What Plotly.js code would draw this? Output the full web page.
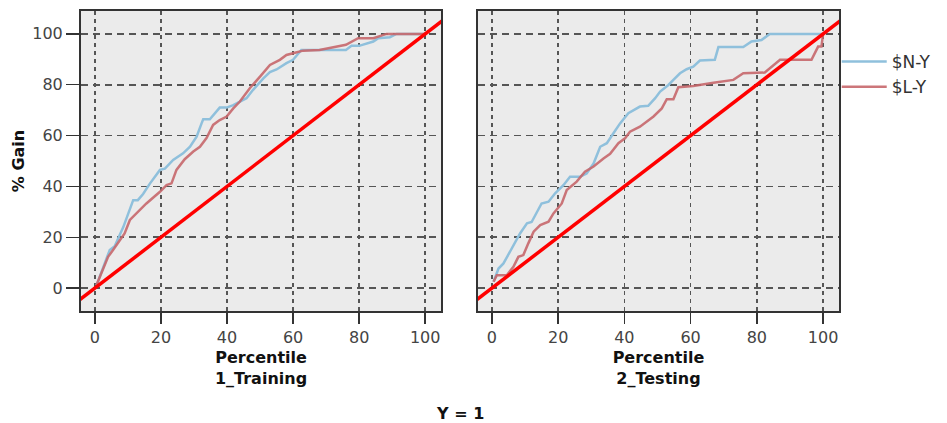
<!DOCTYPE html>
<html>
<head>
<meta charset="utf-8">
<script src="https://cdn.plot.ly/plotly-3.0.1.min.js"></script>
<style>html,body{margin:0;padding:0;background:#fff;}#chart{width:947px;height:423px;}</style>
</head>
<body>
<div id="chart"></div>
<script>
// Training panel
const trainNx = [0.5,4.5,6,8.6,11.6,13,14.6,16.6,19.7,21.2,23.7,26.7,28.8,30.8,32.3,32.8,34.8,36.3,37.8,39.9,41.9,45.9,47.9,51,53,55,58,60,62.5,64,70,76,77.7,80,84.3,85.8,89.3,91.3,100];
const trainNy = [1.2,15,16.5,24,34.6,34.6,37,41,46.5,47,50.4,53,55.6,59.6,64.8,66.4,66.4,68.8,71,71,72,74.7,78,82.5,85,86,88.5,89.8,93.7,93.7,93.7,93.7,95.3,95.3,97,98.3,98.7,100,100];
const trainLx = [0.5,1.5,4,5.5,7,9,10.6,12.6,15.6,19.7,21.7,23.2,24.7,27.2,29.8,31.8,33.8,35.8,37.8,39.9,41.9,43.9,46.9,50,53,56,58,60,63,68,72,76,79.7,84.3,88.3,100];
const trainLy = [1.2,4.5,12.3,15,17.6,21.5,26.8,29.4,33.3,37.9,40.5,41.2,46.5,50.7,53.7,55.6,59,64.2,66.1,67.5,70.7,73.4,78.6,83.2,87.8,89.8,91.7,92.4,93.4,93.7,94.6,95.7,98.3,98.3,100,100];
// Testing panel
const testNx = [0.5,2,3.5,6,8.5,10.6,12,15,17.1,19.1,21.6,23.6,26.6,28.6,30.7,32.7,34.7,36.7,38.7,41.2,42.7,44.7,47.2,49.3,50.8,53.3,54.8,56.8,58.8,60.8,62.8,67.3,68.4,75.9,78.4,81.4,83.9,100];
const testNy = [2.5,7.7,9.7,15.6,21.5,25.5,26,33.3,34,37.3,40.5,43.8,43.8,45.1,49,55.6,57,60.9,64.8,68.8,69.8,71.4,71.7,74.7,77.3,79.9,81.9,84.5,86.1,87.1,89.5,89.8,94.8,94.8,97,97.6,100,100];
const testLx = [0.5,1.5,4.5,6.5,8,9.5,11,12.6,14.6,17.1,18.6,21.1,22.6,25.6,28.1,30.7,33.7,35.7,38.2,40.2,41.7,44.7,48.8,51.3,52.8,54.8,56.3,60.8,66.9,72.9,75.9,82.4,87,96.5,98.5,99.5,100];
const testLy = [2.5,5.1,5.1,8.4,12.3,13,17.6,22.2,24.8,26.1,29.4,33.3,38.6,41.9,45.8,47.8,51,52.8,57,58.9,61.5,63.5,67.5,70.7,74.3,74.3,79,79.5,80.8,81.9,84.5,84.8,89.8,89.8,95,95,100];
// Baseline (random model) y = x
const baseX = [-10, 110];
const baseY = [-10, 110];
const seriesNames = ['$N-Y', '$L-Y'];
const panelTitles = ['1_Training', '2_Testing'];
const tickVals = [0, 20, 40, 60, 80, 100];

const blue = '#8fc0dc', red = '#c7676c', diag = '#ff0000';
const traces = [
  {x: trainNx, y: trainNy, xaxis:'x', yaxis:'y', name: seriesNames[0], legendgroup:'n', mode:'lines', line:{color:blue, width:2.5}},
  {x: trainLx, y: trainLy, xaxis:'x', yaxis:'y', name: seriesNames[1], legendgroup:'l', mode:'lines', line:{color:red, width:2.5}, opacity:0.9},
  {x: testNx, y: testNy, xaxis:'x2', yaxis:'y2', name: seriesNames[0], legendgroup:'n', showlegend:false, mode:'lines', line:{color:blue, width:2.5}},
  {x: testLx, y: testLy, xaxis:'x2', yaxis:'y2', name: seriesNames[1], legendgroup:'l', showlegend:false, mode:'lines', line:{color:red, width:2.5}, opacity:0.9},
  {x: baseX, y: baseY, xaxis:'x', yaxis:'y', showlegend:false, mode:'lines', line:{color:diag, width:3.5}},
  {x: baseX, y: baseY, xaxis:'x2', yaxis:'y2', showlegend:false, mode:'lines', line:{color:diag, width:3.5}}
];

const fnt = 'DejaVu Sans, Verdana, sans-serif';
function xax(domain, title) {
  return {
    domain: domain, range: [-4.2, 104.8], tickvals: tickVals, ticks: 'outside', ticklen: 11, tickwidth: 1.5, tickcolor: '#333',
    showline: true, mirror: true, linecolor: '#333', linewidth: 2,
    showgrid: true, gridcolor: '#555', gridwidth: 1.6, griddash: '4px,4px', zeroline: false,
    tickfont: {family: fnt, size: 16, color: '#444'},
    title: {text: '<b>Percentile</b><br><b>' + title + '</b>', font: {family: fnt, size: 16, color: '#111'}, standoff: 6},
    fixedrange: true
  };
}
function yax(anchor, showLabels) {
  return {
    anchor: anchor, range: [-9, 109], tickvals: tickVals, ticks: showLabels ? 'outside' : '', ticklen: 13, tickwidth: 1.5, tickcolor: '#333',
    showticklabels: showLabels,
    showline: true, mirror: true, linecolor: '#333', linewidth: 2,
    showgrid: true, gridcolor: '#555', gridwidth: 1.6, griddash: '7px,5px', zeroline: false,
    tickfont: {family: fnt, size: 16, color: '#444'},
    title: showLabels ? {text: '<b>% Gain</b>', font: {family: fnt, size: 16, color: '#111'}, standoff: 4} : {text: ''},
    fixedrange: true
  };
}

const layout = {
  width: 947, height: 423,
  margin: {l: 81, r: 108, t: 11, b: 112},
  paper_bgcolor: '#ffffff', plot_bgcolor: '#ebebeb',
  xaxis: xax([0, 0.475], panelTitles[0]),
  yaxis: yax('x', true),
  xaxis2: Object.assign(xax([0.5237, 1], panelTitles[1]), {anchor: 'y2'}),
  yaxis2: yax('x2', false),
  showlegend: true,
  legend: {x: 0.997, xanchor: 'left', y: 0.89, yanchor: 'top', font: {family: fnt, size: 17, color: '#333'}, bgcolor: 'rgba(0,0,0,0)', itemwidth: 45, tracegroupgap: 0},
  annotations: [{text: '<b>Y = 1</b>', xref: 'paper', yref: 'paper', x: 0.5, y: -0.34, xanchor: 'center', yanchor: 'middle', showarrow: false, font: {family: fnt, size: 16, color: '#111'}}]
};
layout.xaxis.anchor = 'y';
Plotly.newPlot('chart', traces, layout, {displayModeBar: false, staticPlot: true});
</script>
</body>
</html>
